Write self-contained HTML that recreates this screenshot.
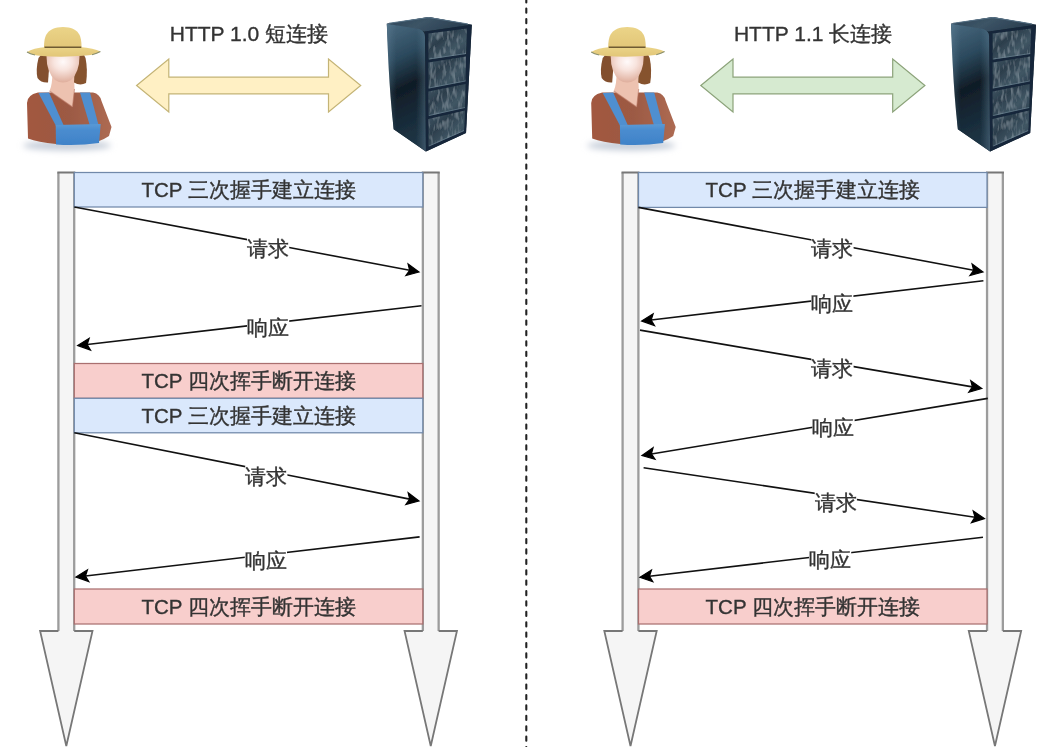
<!DOCTYPE html>
<html><head><meta charset="utf-8"><style>
html,body{margin:0;padding:0;background:#fff;}
svg{display:block;filter:blur(0.6px);}
text{font-family:"Liberation Sans",sans-serif;font-weight:500;fill:#333;stroke:#333;stroke-width:0.35px;text-anchor:middle;dominant-baseline:central;}
.tt{font-size:21px;}
.bt{font-size:20.5px;}
.lb{font-size:20.5px;}
.ln{stroke:#111;stroke-width:1.6;fill:none;}
.ah{fill:#000;stroke:#000;stroke-width:1.2;stroke-linejoin:miter;}
.lf{fill:#f5f5f5;stroke:#939393;stroke-width:2.2;}
.bb{fill:#dae8fc;stroke:#7189aa;stroke-width:1.25;}
.pb{fill:#f8cecc;stroke:#aa7070;stroke-width:1.25;}
</style></head><body>
<svg width="1062" height="747" viewBox="0 0 1062 747">
<defs>
<filter id="pblur" x="-10%" y="-10%" width="120%" height="120%"><feGaussianBlur stdDeviation="0.6"/></filter>
<filter id="sblur" x="-30%" y="-100%" width="160%" height="300%"><feGaussianBlur stdDeviation="3"/></filter>
<radialGradient id="faceG" cx="0.5" cy="0.3" r="0.7">
<stop offset="0" stop-color="#fffafa"/><stop offset="0.4" stop-color="#f8e4de"/><stop offset="1" stop-color="#dfae9c"/></radialGradient>
<linearGradient id="hatG" x1="0" y1="0" x2="0" y2="1">
<stop offset="0" stop-color="#ebd488"/><stop offset="1" stop-color="#e2c678"/></linearGradient>
<linearGradient id="shirtG" x1="0" y1="0" x2="1" y2="0">
<stop offset="0" stop-color="#a2583f"/><stop offset="0.5" stop-color="#9c5a44"/><stop offset="1" stop-color="#ad6a52"/></linearGradient>
<linearGradient id="bibG" x1="0" y1="0" x2="0" y2="1">
<stop offset="0" stop-color="#5a9ad6"/><stop offset="0.3" stop-color="#4a8ccf"/><stop offset="1" stop-color="#3f82c8"/></linearGradient>

<linearGradient id="topG" x1="0" y1="0" x2="1" y2="0.3"><stop offset="0" stop-color="#2e4658"/><stop offset="0.5" stop-color="#3c5466"/><stop offset="1" stop-color="#2a3e50"/></linearGradient>
<linearGradient id="sideG" x1="0" y1="0" x2="0.15" y2="1">
<stop offset="0" stop-color="#4a6a80"/><stop offset="0.3" stop-color="#2c4a5e"/><stop offset="0.55" stop-color="#101c26"/><stop offset="0.8" stop-color="#172a38"/><stop offset="1" stop-color="#1e3444"/></linearGradient>
<linearGradient id="sideHL" x1="0" y1="0" x2="1" y2="0">
<stop offset="0" stop-color="#6a8aa0" stop-opacity="0.35"/><stop offset="0.25" stop-color="#5a7a90" stop-opacity="0"/><stop offset="0.75" stop-color="#5a7a90" stop-opacity="0"/><stop offset="1" stop-color="#6a8aa0" stop-opacity="0.4"/></linearGradient>
<linearGradient id="panelG" x1="0" y1="0" x2="1" y2="1">
<stop offset="0" stop-color="#445a68"/><stop offset="0.35" stop-color="#2c3e4c"/><stop offset="0.65" stop-color="#405664"/><stop offset="1" stop-color="#283a4a"/></linearGradient>
<filter id="noise" x="0" y="0" width="100%" height="100%">
<feTurbulence type="fractalNoise" baseFrequency="0.3 0.1" numOctaves="2" seed="7" result="n"/>
<feColorMatrix in="n" type="matrix" values="0 0 0 0 0.45  0 0 0 0 0.56  0 0 0 0 0.64  0 0 0 0.8 -0.38" result="c"/>
<feComposite in="c" in2="SourceAlpha" operator="in" result="t"/>
<feMerge><feMergeNode in="SourceGraphic"/><feMergeNode in="t"/></feMerge>
</filter>

</defs>
<line x1="526.3" y1="0" x2="526.3" y2="747" stroke="#222" stroke-width="2.1" stroke-linecap="round" stroke-dasharray="4.2 6.2" stroke-dashoffset="1.8"/>
<text x="248.90" y="33.4" class="tt">HTTP 1.0 短连接</text>
<path d="M136.6,85.5 L168.8,59.0 L168.8,77.2 L328.5,77.2 L328.5,59.0 L360.7,85.5 L328.5,112.0 L328.5,93.8 L168.8,93.8 L168.8,112.0 Z" fill="#fff0c4" stroke="#c4b476" stroke-width="1.2" stroke-linejoin="miter"/>
<g transform="translate(0.00,0)"><g>
<ellipse cx="67" cy="145.5" rx="44" ry="5" fill="#c4ccd8" filter="url(#sblur)"/>
<g filter="url(#pblur)">
<path d="M27,103 Q27,95 38,92.5 L93,92.5 Q100,94 101.5,101 L111.5,127 L109,136 Q100,142 90,143 L56,144 Q38,142 28,138.5 Z" fill="url(#shirtG)"/>
<path d="M52.5,70 L74,70 L74.5,89 L72.5,107 L49.5,91 Q52.5,85 52.5,70 Z" fill="#edc2b0"/>
<path d="M49.5,91 L72.5,107 M74.5,89 L72.5,107" stroke="#b87460" stroke-width="1.1" opacity="0.6"/>
<path d="M38.5,93 L49,92.5 L63.5,125 L56,126 Z" fill="#4f8fd0"/>
<path d="M80,92.5 L90,92.5 L98.5,125 L90,126 Z" fill="#4f8fd0"/>
<path d="M55.7,125 L100.7,124 L99,143 Q78,146 56,144.5 Z" fill="url(#bibG)"/>
<path d="M38.5,58 Q35.5,70 37.5,78 Q41,83 48,82.5 L50,56 L41,55 Z" fill="#83502f"/>
<path d="M85.5,58 Q88,70 86,83 Q80,86 74,82.5 L75,56 L84,55 Z" fill="#86522f"/>
<path d="M46.5,56 Q47,53 63,53 Q79,53 79.5,56 Q79.5,72 71,80 Q63,85 55,80 Q46.5,72 46.5,56 Z" fill="url(#faceG)"/>
<path d="M27,52 Q33,48 46,47 L80,47 Q94,48 100.4,51.5 Q96,54.5 86,55.5 Q64,57.5 42,56 Q32,55.5 27,52 Z" fill="url(#hatG)"/>
<path d="M27,52 Q30,54 35,55" stroke="#8a9070" stroke-width="1.1" fill="none"/>
<path d="M100.4,51.5 Q97,53.5 92,54.8" stroke="#8a9070" stroke-width="1.1" fill="none"/>
<path d="M44,47.5 C44,36 46.5,27.5 63,27 C79.5,27.5 81.5,36 81.5,47.5 Z" fill="url(#hatG)"/>
<path d="M44.5,47.3 L81.3,47.3" stroke="#6e5a32" stroke-width="1.4"/>
</g>
</g>
<g>
<g filter="url(#pblur)">
<path d="M386.8,23.7 L428.8,16.9 L471.8,24.7 L466,133 L425.9,151.6 L393.7,129.2 Z" fill="#1a2a38"/>
<path d="M386.8,23.7 L428.8,16.9 L471.8,24.7 L425,31.5 Z" fill="url(#topG)"/>
<path d="M389,23.2 L428.8,17.5 L468,24" stroke="#587286" stroke-width="1.1" fill="none"/>
<path d="M386.8,23.7 L419,29 Q425,31 425,37 L425.9,151.6 L393.7,129.2 Q389,90 386.8,23.7 Z" fill="url(#sideG)"/>
<path d="M386.8,23.7 L419,29 Q425,31 425,37 L425.9,151.6 L393.7,129.2 Q389,90 386.8,23.7 Z" fill="url(#sideHL)"/>
<path d="M425,31.5 L471.8,24.7 L466,133 L425.9,151.6 Z" fill="#18283a"/>
<g filter="url(#noise)">
<path d="M428.5,33.5 L467,28.5 L466,54 L428.5,59.5 Z" fill="url(#panelG)"/>
<path d="M428.5,62.5 L466,56.5 L465.5,81.3 L428.5,88.5 Z" fill="url(#panelG)"/>
<path d="M428.5,91.5 L465.5,84 L465,107.7 L428.5,116 Z" fill="url(#panelG)"/>
<path d="M428.5,119 L465,110.5 L464,131 L428.5,146.5 Z" fill="url(#panelG)"/>
</g>
<path d="M429,59 L466,53.5 M429,88 L465.5,81 M429,115.5 L465,107.5 M429,146 L464,130.5" stroke="#7890a0" stroke-width="1" opacity="0.55"/>
</g>
</g>
</g>
<path d="M58.40,172.5 L74.20,172.5 L74.20,631 L92.50,631 L66.30,746 L40.10,631 L58.40,631 Z" fill="#f5f5f5"/><path d="M58.40,631 L58.40,172.5 M74.20,172.5 L74.20,631" fill="none" stroke="#9c9c9c" stroke-width="2.3"/><path d="M57.30,172.5 L75.30,172.5 M74.20,631 L92.50,631 L66.30,746 L40.10,631 L58.40,631" fill="none" stroke="#777" stroke-width="1.8" stroke-linejoin="miter"/>
<path d="M422.85,172.5 L438.65,172.5 L438.65,631 L456.95,631 L430.75,746 L404.55,631 L422.85,631 Z" fill="#f5f5f5"/><path d="M422.85,631 L422.85,172.5 M438.65,172.5 L438.65,631" fill="none" stroke="#9c9c9c" stroke-width="2.3"/><path d="M421.75,172.5 L439.75,172.5 M438.65,631 L456.95,631 L430.75,746 L404.55,631 L422.85,631" fill="none" stroke="#777" stroke-width="1.8" stroke-linejoin="miter"/>
<rect x="74.30" y="172.50" width="348.50" height="34.50" class="bb"/><text x="248.55" y="189.75" class="bt">TCP 三次握手建立连接</text>
<rect x="74.30" y="363.50" width="348.50" height="34.80" class="pb"/><text x="248.55" y="380.90" class="bt">TCP 四次挥手断开连接</text>
<rect x="74.30" y="398.30" width="348.50" height="34.50" class="bb"/><text x="248.55" y="415.55" class="bt">TCP 三次握手建立连接</text>
<rect x="74.30" y="589.00" width="348.50" height="35.00" class="pb"/><text x="248.55" y="606.50" class="bt">TCP 四次挥手断开连接</text>
<path d="M74.30,207.00 L409.65,270.24" class="ln"/><path d="M419.00,272.00 L405.92,275.54 L409.65,270.24 L408.10,263.94 Z" class="ah"/>
<path d="M421.50,305.70 L87.15,344.50" class="ln"/><path d="M77.70,345.60 L89.14,338.33 L87.15,344.50 L90.50,350.05 Z" class="ah"/>
<path d="M74.30,432.80 L409.66,499.15" class="ln"/><path d="M419.00,501.00 L405.89,504.42 L409.66,499.15 L408.18,492.84 Z" class="ah"/>
<path d="M419.60,536.90 L85.45,575.99" class="ln"/><path d="M76.00,577.10 L87.43,569.82 L85.45,575.99 L88.80,581.54 Z" class="ah"/>
<rect x="247.0" y="237.5" width="42.2" height="22" fill="#fff"/><text x="267.80" y="248.50" class="lb">请求</text>
<rect x="247.0" y="316.5" width="42.2" height="22" fill="#fff"/><text x="267.80" y="327.50" class="lb">响应</text>
<rect x="245.2" y="465.3" width="42.2" height="22" fill="#fff"/><text x="266.00" y="476.30" class="lb">请求</text>
<rect x="244.8" y="549.0" width="42.2" height="22" fill="#fff"/><text x="265.60" y="560.00" class="lb">响应</text>
<text x="813.10" y="33.4" class="tt">HTTP 1.1 长连接</text>
<path d="M700.8000000000001,85.5 L733.0000000000001,59.0 L733.0000000000001,77.2 L892.7,77.2 L892.7,59.0 L924.9000000000001,85.5 L892.7,112.0 L892.7,93.8 L733.0000000000001,93.8 L733.0000000000001,112.0 Z" fill="#d6ead0" stroke="#8ca37a" stroke-width="1.2" stroke-linejoin="miter"/>
<g transform="translate(564.20,0)"><g>
<ellipse cx="67" cy="145.5" rx="44" ry="5" fill="#c4ccd8" filter="url(#sblur)"/>
<g filter="url(#pblur)">
<path d="M27,103 Q27,95 38,92.5 L93,92.5 Q100,94 101.5,101 L111.5,127 L109,136 Q100,142 90,143 L56,144 Q38,142 28,138.5 Z" fill="url(#shirtG)"/>
<path d="M52.5,70 L74,70 L74.5,89 L72.5,107 L49.5,91 Q52.5,85 52.5,70 Z" fill="#edc2b0"/>
<path d="M49.5,91 L72.5,107 M74.5,89 L72.5,107" stroke="#b87460" stroke-width="1.1" opacity="0.6"/>
<path d="M38.5,93 L49,92.5 L63.5,125 L56,126 Z" fill="#4f8fd0"/>
<path d="M80,92.5 L90,92.5 L98.5,125 L90,126 Z" fill="#4f8fd0"/>
<path d="M55.7,125 L100.7,124 L99,143 Q78,146 56,144.5 Z" fill="url(#bibG)"/>
<path d="M38.5,58 Q35.5,70 37.5,78 Q41,83 48,82.5 L50,56 L41,55 Z" fill="#83502f"/>
<path d="M85.5,58 Q88,70 86,83 Q80,86 74,82.5 L75,56 L84,55 Z" fill="#86522f"/>
<path d="M46.5,56 Q47,53 63,53 Q79,53 79.5,56 Q79.5,72 71,80 Q63,85 55,80 Q46.5,72 46.5,56 Z" fill="url(#faceG)"/>
<path d="M27,52 Q33,48 46,47 L80,47 Q94,48 100.4,51.5 Q96,54.5 86,55.5 Q64,57.5 42,56 Q32,55.5 27,52 Z" fill="url(#hatG)"/>
<path d="M27,52 Q30,54 35,55" stroke="#8a9070" stroke-width="1.1" fill="none"/>
<path d="M100.4,51.5 Q97,53.5 92,54.8" stroke="#8a9070" stroke-width="1.1" fill="none"/>
<path d="M44,47.5 C44,36 46.5,27.5 63,27 C79.5,27.5 81.5,36 81.5,47.5 Z" fill="url(#hatG)"/>
<path d="M44.5,47.3 L81.3,47.3" stroke="#6e5a32" stroke-width="1.4"/>
</g>
</g>
<g>
<g filter="url(#pblur)">
<path d="M386.8,23.7 L428.8,16.9 L471.8,24.7 L466,133 L425.9,151.6 L393.7,129.2 Z" fill="#1a2a38"/>
<path d="M386.8,23.7 L428.8,16.9 L471.8,24.7 L425,31.5 Z" fill="url(#topG)"/>
<path d="M389,23.2 L428.8,17.5 L468,24" stroke="#587286" stroke-width="1.1" fill="none"/>
<path d="M386.8,23.7 L419,29 Q425,31 425,37 L425.9,151.6 L393.7,129.2 Q389,90 386.8,23.7 Z" fill="url(#sideG)"/>
<path d="M386.8,23.7 L419,29 Q425,31 425,37 L425.9,151.6 L393.7,129.2 Q389,90 386.8,23.7 Z" fill="url(#sideHL)"/>
<path d="M425,31.5 L471.8,24.7 L466,133 L425.9,151.6 Z" fill="#18283a"/>
<g filter="url(#noise)">
<path d="M428.5,33.5 L467,28.5 L466,54 L428.5,59.5 Z" fill="url(#panelG)"/>
<path d="M428.5,62.5 L466,56.5 L465.5,81.3 L428.5,88.5 Z" fill="url(#panelG)"/>
<path d="M428.5,91.5 L465.5,84 L465,107.7 L428.5,116 Z" fill="url(#panelG)"/>
<path d="M428.5,119 L465,110.5 L464,131 L428.5,146.5 Z" fill="url(#panelG)"/>
</g>
<path d="M429,59 L466,53.5 M429,88 L465.5,81 M429,115.5 L465,107.5 M429,146 L464,130.5" stroke="#7890a0" stroke-width="1" opacity="0.55"/>
</g>
</g>
</g>
<path d="M622.60,172.5 L638.40,172.5 L638.40,631 L656.70,631 L630.50,746 L604.30,631 L622.60,631 Z" fill="#f5f5f5"/><path d="M622.60,631 L622.60,172.5 M638.40,172.5 L638.40,631" fill="none" stroke="#9c9c9c" stroke-width="2.3"/><path d="M621.50,172.5 L639.50,172.5 M638.40,631 L656.70,631 L630.50,746 L604.30,631 L622.60,631" fill="none" stroke="#777" stroke-width="1.8" stroke-linejoin="miter"/>
<path d="M987.05,172.5 L1002.85,172.5 L1002.85,631 L1021.15,631 L994.95,746 L968.75,631 L987.05,631 Z" fill="#f5f5f5"/><path d="M987.05,631 L987.05,172.5 M1002.85,172.5 L1002.85,631" fill="none" stroke="#9c9c9c" stroke-width="2.3"/><path d="M985.95,172.5 L1003.95,172.5 M1002.85,631 L1021.15,631 L994.95,746 L968.75,631 L987.05,631" fill="none" stroke="#777" stroke-width="1.8" stroke-linejoin="miter"/>
<rect x="638.50" y="172.50" width="348.50" height="34.90" class="bb"/><text x="812.75" y="189.95" class="bt">TCP 三次握手建立连接</text>
<rect x="638.50" y="589.00" width="348.50" height="35.00" class="pb"/><text x="812.75" y="606.50" class="bt">TCP 四次挥手断开连接</text>
<path d="M638.40,207.40 L973.65,270.25" class="ln"/><path d="M983.00,272.00 L969.92,275.55 L973.65,270.25 L972.10,263.95 Z" class="ah"/>
<path d="M983.40,280.70 L651.15,319.98" class="ln"/><path d="M641.70,321.10 L653.12,313.81 L651.15,319.98 L654.51,325.53 Z" class="ah"/>
<path d="M640.00,330.10 L972.42,386.90" class="ln"/><path d="M981.80,388.50 L968.78,392.26 L972.42,386.90 L970.77,380.63 Z" class="ah"/>
<path d="M987.80,398.40 L651.39,453.95" class="ln"/><path d="M642.00,455.50 L653.08,447.69 L651.39,453.95 L655.00,459.33 Z" class="ah"/>
<path d="M643.60,467.70 L974.99,517.19" class="ln"/><path d="M984.40,518.60 L971.46,522.63 L974.99,517.19 L973.21,510.96 Z" class="ah"/>
<path d="M983.00,537.30 L649.45,576.20" class="ln"/><path d="M640.00,577.30 L651.43,570.03 L649.45,576.20 L652.80,581.75 Z" class="ah"/>
<rect x="811.4" y="237.4" width="42.2" height="22" fill="#fff"/><text x="832.20" y="248.40" class="lb">请求</text>
<rect x="811.2" y="292.0" width="42.2" height="22" fill="#fff"/><text x="832.00" y="303.00" class="lb">响应</text>
<rect x="811.4" y="357.1" width="42.2" height="22" fill="#fff"/><text x="832.20" y="368.10" class="lb">请求</text>
<rect x="812.4" y="416.7" width="42.2" height="22" fill="#fff"/><text x="833.20" y="427.70" class="lb">响应</text>
<rect x="814.7" y="491.4" width="42.2" height="22" fill="#fff"/><text x="835.50" y="502.40" class="lb">请求</text>
<rect x="809.0" y="548.3" width="42.2" height="22" fill="#fff"/><text x="829.80" y="559.30" class="lb">响应</text>
</svg>
</body></html>
